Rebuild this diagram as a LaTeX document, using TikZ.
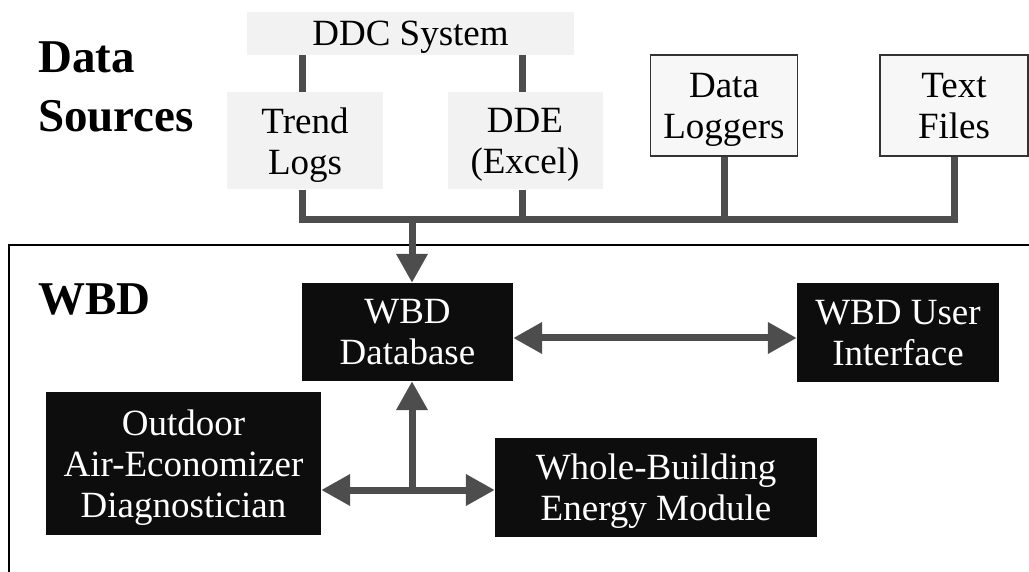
\documentclass[tikz,border=0pt]{standalone}
\usepackage{fontspec}
\setmainfont{Liberation Serif}
\usetikzlibrary{arrows.meta,calc}
\definecolor{lightbox}{HTML}{F2F2F2}
\definecolor{paperbox}{HTML}{F7F7F7}
\definecolor{darkbox}{HTML}{0D0D0D}
\definecolor{conn}{HTML}{4D4D4D}
\tikzset{
  boxtext/.style={inner sep=0pt, align=center, text depth=0pt, font=\fontsize{37}{41}\selectfont},
  srcbox/.style={boxtext, fill=lightbox},
  filebox/.style={boxtext, fill=paperbox, draw=black!80, line width=1.3pt},
  wbdbox/.style={boxtext, fill=darkbox, text=white},
  wire/.style={draw=conn, line width=7pt, line join=miter},
  tip/.style={-{Triangle[length=29pt,width=30pt]}},
  tips/.style={{Triangle[length=29pt,width=30pt]}-{Triangle[length=29pt,width=30pt]}},
  biglabel/.style={font=\fontsize{47}{59}\selectfont\bfseries, align=left, inner sep=0pt}
}
\begin{document}
\begin{tikzpicture}[x=1pt,y=-1pt]
\useasboundingbox (0,0) rectangle (1029,572);
% frame
\draw[line width=2.5pt] (9,572) -- (9,245) -- (1030,245);
% labels
\node[biglabel, anchor=base west] (dslabel) at (38,132) {Data\\Sources};
\node[biglabel, anchor=base west] (wbdlabel) at (38,315) {WBD};
% data sources
\node[srcbox, minimum width=327pt, minimum height=43pt] (ddc) at (410.5,33.5) {DDC System};
\node[srcbox, minimum width=156pt, minimum height=97pt] (trend) at (305,141) {Trend\\Logs};
\node[srcbox, minimum width=155pt, minimum height=97pt] (dde) at (525,141) {DDE\\(Excel)};
\node[filebox, minimum width=147pt, minimum height=101pt] (loggers) at (724,105.5) {Data\\Loggers};
\node[filebox, minimum width=148pt, minimum height=101pt] (textf) at (954,105.5) {Text\\Files};
% WBD components
\node[wbdbox, minimum width=211pt, minimum height=98pt] (db) at (407.5,332) {WBD\\Database};
\node[wbdbox, minimum width=202pt, minimum height=99pt] (ui) at (898,332.5) {WBD User\\Interface};
\node[wbdbox, minimum width=275pt, minimum height=143pt] (oae) at (183.5,463.5) {Outdoor\\Air-Economizer\\Diagnostician};
\node[wbdbox, minimum width=322pt, minimum height=99pt] (wbe) at (656,487.5) {Whole-Building\\Energy Module};
% junctions
\coordinate (bus) at (412,220);
\coordinate (hub) at (412,490);
% DDC links
\draw[wire] ([xshift=-3pt]trend.north) -- ([xshift=-3pt]trend.north |- ddc.south);
\draw[wire] ([xshift=-3pt]dde.north) -- ([xshift=-3pt]dde.north |- ddc.south);
% bus
\draw[wire] ([xshift=-3pt]trend.south) -- ([xshift=-3pt]trend.south |- bus) -- (textf.south |- bus) -- (textf.south);
\draw[wire] ([xshift=-3pt]dde.south) -- ([xshift=-3pt]dde.south |- bus);
\draw[wire] (loggers.south) -- (loggers.south |- bus);
\draw[wire, tip] (bus) -- (bus |- db.north);
% WBD arrows
\draw[wire, tips] ([yshift=-6pt]db.east) -- ([yshift=-6pt]db.east -| ui.west);
\draw[wire, tips] (oae.east |- hub) -- (wbe.west |- hub);
\draw[wire, tip] (hub) -- (hub |- db.south);
\end{tikzpicture}
\end{document}
